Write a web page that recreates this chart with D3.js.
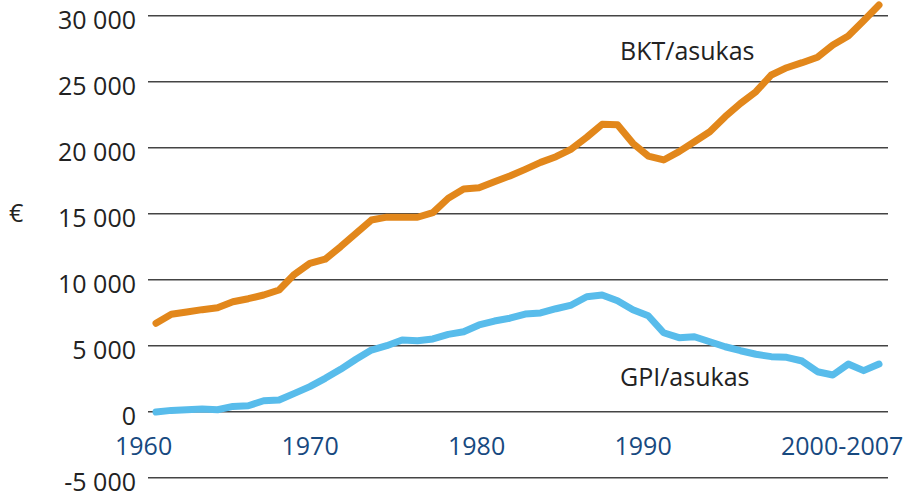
<!DOCTYPE html>
<html>
<head>
<meta charset="utf-8">
<script src="https://cdn.jsdelivr.net/npm/d3@7"></script>
<style>
  html, body { margin: 0; padding: 0; background: #fff; }
  svg { display: block; }
  text { font-family: "Open Sans", "Noto Sans", sans-serif; }
</style>
</head>
<body>
<script>
const years = [1960,1961,1962,1963,1964,1965,1966,1967,1968,1969,
               1970,1971,1972,1973,1974,1975,1976,1977,1978,1979,
               1980,1981,1982,1983,1984,1985,1986,1987,1988,1989,
               1990,1991,1992,1993,1994,1995,1996,1997,1998,1999,
               2000,2001,2002,2003,2004,2005,2006,2007];
const bkt = [6700,7380,7550,7730,7880,8330,8560,8840,9220,10410,
             11240,11550,12500,13510,14520,14740,14730,14730,15080,16170,
             16870,16970,17420,17860,18360,18890,19320,19900,20790,21770,
             21740,20330,19370,19070,19700,20450,21210,22350,23360,24240,
             25510,26060,26440,26850,27780,28460,29620,30810];
const gpi = [-30,100,150,200,150,400,450,830,890,1390,
             1900,2530,3210,3970,4670,5000,5430,5380,5510,5860,
             6060,6570,6870,7080,7400,7480,7800,8080,8710,8840,
             8410,7730,7270,5980,5610,5680,5300,4920,4620,4350,
             4170,4120,3840,3030,2780,3610,3110,3610];
const yTicks = [30000,25000,20000,15000,10000,5000,0,-5000];
const yTickLabels = ["30 000","25 000","20 000","15 000","10 000","5 000","0","-5 000"];
const xTickLabels = ["1960","1970","1980","1990","2000-2007"];
const seriesNames = ["BKT/asukas","GPI/asukas"];
const unitLabel = "€";

const W = 908, H = 493;
const svg = d3.select("body").append("svg").attr("width", W).attr("height", H);

const x = d3.scaleLinear().domain([1960, 2007]).range([156, 879]);
const y = d3.scaleLinear().domain([-5000, 30000]).range([477.7, 15.7]);
const xLab = d3.scalePoint().domain(xTickLabels).range([115, 781]);

// gridlines
svg.append("g").selectAll("line").data(yTicks).join("line")
  .attr("x1", 148).attr("x2", 888)
  .attr("y1", d => y(d)).attr("y2", d => y(d))
  .attr("stroke", "#444").attr("stroke-width", 1.4);

// y tick labels
svg.append("g").selectAll("text").data(yTicks).join("text")
  .attr("x", 136).attr("y", d => y(d) + 13)
  .attr("text-anchor", "end")
  .attr("font-size", 25).attr("fill", "#222")
  .text((d, i) => yTickLabels[i]);

// x tick labels
svg.append("g").selectAll("text").data(xTickLabels).join("text")
  .attr("x", d => xLab(d)).attr("y", 455)
  .attr("text-anchor", "start")
  .attr("font-size", 25).attr("fill", "#17497f")
  .text(d => d);

// unit
svg.append("text").attr("x", 9).attr("y", 222)
  .attr("font-size", 25).attr("fill", "#222").text(unitLabel);

const line = d3.line().x((d, i) => x(years[i])).y(d => y(d));

svg.append("path").datum(bkt).attr("d", line)
  .attr("fill", "none").attr("stroke", "#e2871b").attr("stroke-width", 7)
  .attr("stroke-linecap", "round").attr("stroke-linejoin", "round");

svg.append("path").datum(gpi).attr("d", line)
  .attr("fill", "none").attr("stroke", "#58bceb").attr("stroke-width", 7)
  .attr("stroke-linecap", "round").attr("stroke-linejoin", "round");

// series labels
svg.append("text").attr("x", 620).attr("y", 60)
  .attr("font-size", 25).attr("fill", "#222").text(seriesNames[0]);
svg.append("text").attr("x", 620).attr("y", 386)
  .attr("font-size", 25).attr("fill", "#222").text(seriesNames[1]);
</script>
</body>
</html>
